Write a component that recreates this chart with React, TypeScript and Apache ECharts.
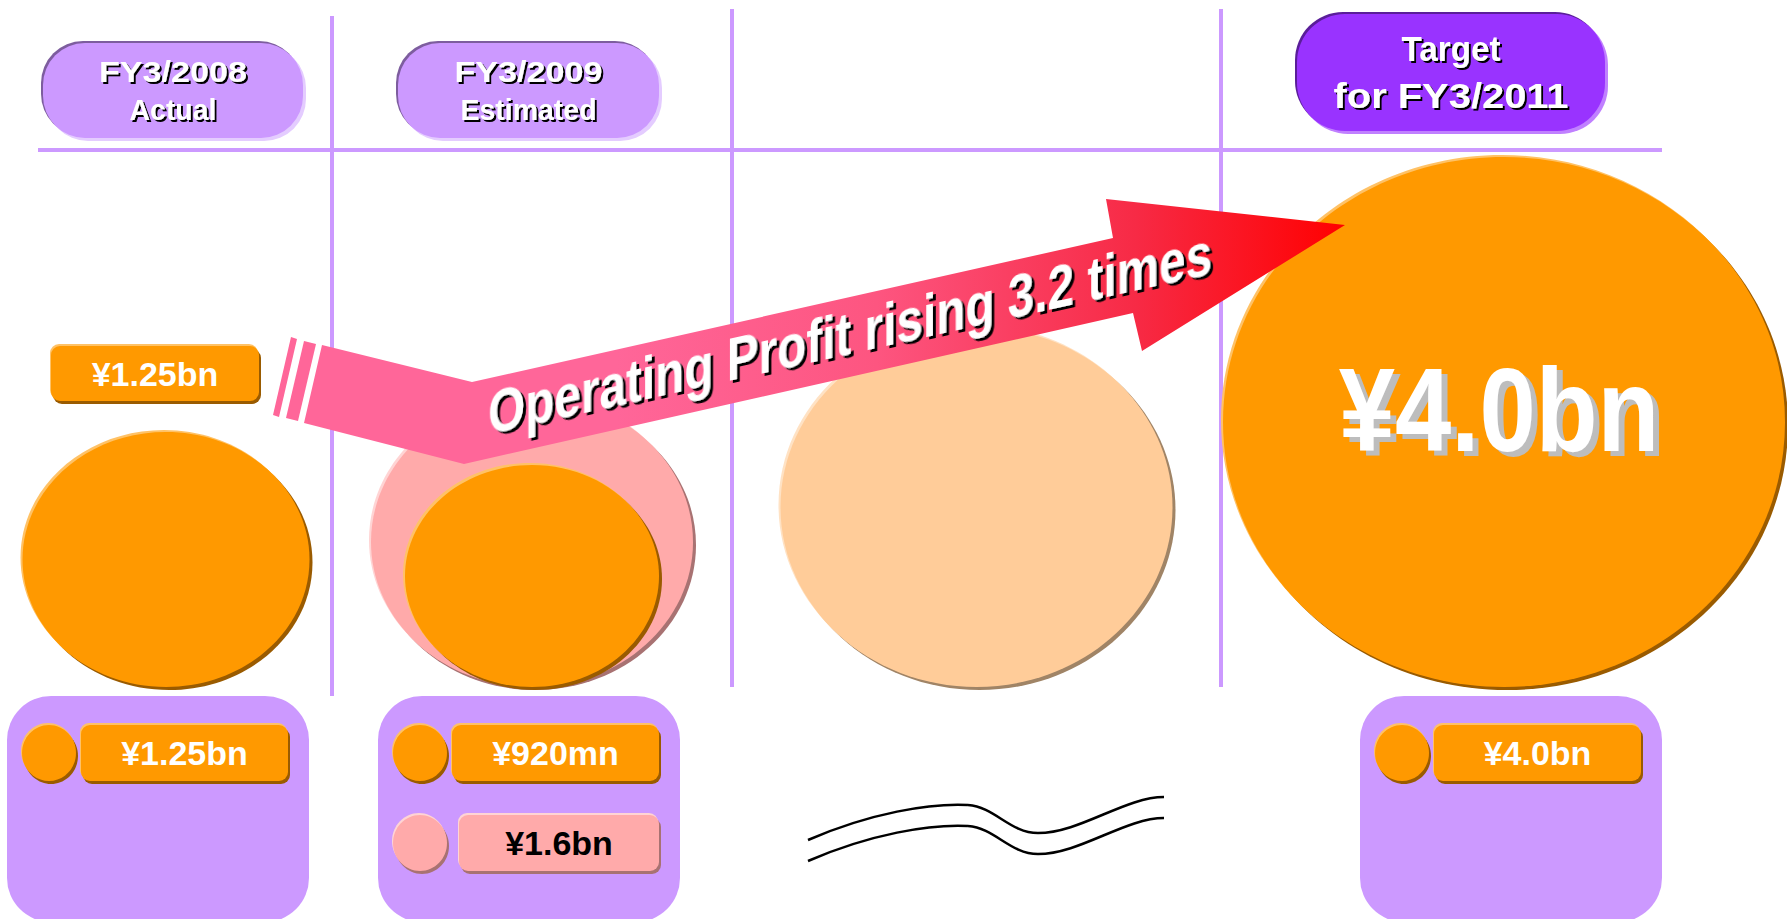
import React, { useEffect, useRef } from 'react';
import * as echarts from 'echarts';

// ---------------- data ----------------
const periods = ['FY3/2008', 'FY3/2009', 'FY3/2010', 'FY3/2011'];
const headerLines: (string[] | null)[] = [
  ['FY3/2008', 'Actual'],
  ['FY3/2009', 'Estimated'],
  null,
  ['Target', 'for FY3/2011'],
];
const operatingProfit: (number | null)[] = [1.25, 0.92, null, 4.0]; // ¥bn
const initialForecast: (number | null)[] = [null, 1.6, null, null]; // ¥bn
const projectedPath: (number | null)[] = [null, null, 2.3, null]; // ¥bn (unlabelled)
const profitLabels = ['¥1.25bn', '¥920mn', '', '¥4.0bn'];
const forecastLabels = ['', '¥1.6bn', '', ''];
const headline = 'Operating Profit rising 3.2 times';

// ---------------- layout / style ----------------
const W = 1787;
const H = 919;
const COL_EDGES = [0, 332, 732, 1221, 1807];
const GRID_TOP = 107;
const GRID_H = 580;
const Y_MIN = -1.3;
const Y_MAX = 4.5;
const WIDEN = 16;
const FONT = '"Liberation Sans", Arial, Helvetica, sans-serif';
const LAV = '#cc99ff';

const ORANGE = { fill: '#ff9900', light: '#ffc266', dark: '#9a5b00', text: '#ffffff' };
const PINK = { fill: '#ffaaaa', light: '#ffd4d4', dark: '#a87272', text: '#000000' };
const PEACH = { fill: '#ffcc99', light: '#ffe2c4', dark: '#a08466', text: '#000000' };

type Pal = typeof ORANGE;

function textStyle(text: string, fill: string, size: number, extra: any = {}) {
  return {
    text,
    fill,
    font: `bold ${size}px ${FONT}`,
    align: 'center',
    verticalAlign: 'middle',
    textAlign: 'center',
    textVerticalAlign: 'middle',
    ...extra,
  };
}

function labelBox(x: number, y: number, w: number, h: number, pal: Pal, label: string, size: number, z = 1): any[] {
  return [
    { type: 'rect', z, shape: { x: x + 2, y: y + 3, width: w, height: h, r: 9 }, style: { fill: pal.dark } },
    { type: 'rect', z, shape: { x: x - 1, y: y - 2, width: w, height: h, r: 9 }, style: { fill: pal.light } },
    { type: 'rect', z, shape: { x, y, width: w, height: h, r: 9 }, style: { fill: pal.fill } },
    { type: 'text', z, x: x + w / 2, y: y + h / 2, style: textStyle(label, pal.text, size) },
  ];
}

function legendEntry(cx: number, cy: number, boxX: number, boxW: number, pal: Pal, label: string): any[] {
  const r = 28;
  return [
    { type: 'ellipse', z: 2, shape: { cx: cx + 2, cy: cy + 3, rx: r - 1, ry: r }, style: { fill: pal.dark } },
    { type: 'ellipse', z: 2, shape: { cx: cx - 1, cy: cy - 2, rx: r - 1, ry: r }, style: { fill: pal.light } },
    { type: 'ellipse', z: 2, shape: { cx, cy, rx: r - 1, ry: r }, style: { fill: pal.fill } },
    ...labelBox(boxX, cy - 28, boxW, 56, pal, label, 34, 2),
  ];
}

function makeRenderItem(pal: Pal, opts: { callout?: string; inner?: string }) {
  return (params: any, api: any) => {
    const top = api.coord([api.value(0), api.value(1)]);
    const base = api.coord([api.value(0), Y_MIN]);
    const ry = (base[1] - top[1]) / 2;
    const rx = ry + WIDEN;
    const cx = top[0];
    const cy = base[1] - ry;
    const children: any[] = [
      { type: 'ellipse', shape: { cx: cx + 3, cy: cy + 3, rx, ry }, style: { fill: pal.dark } },
      { type: 'ellipse', shape: { cx: cx - 2, cy: cy - 2, rx, ry }, style: { fill: pal.light } },
      { type: 'ellipse', shape: { cx, cy, rx, ry }, style: { fill: pal.fill } },
    ];
    if (opts.callout) {
      const bw = 208;
      const bh = 55;
      children.push(...labelBox(cx - 11 - bw / 2, top[1] - 31 - bh, bw, bh, pal, opts.callout, 34));
    }
    if (opts.inner) {
      children.push({
        type: 'text',
        x: cx - 5,
        y: cy - 12,
        scaleX: 0.85,
        style: textStyle(opts.inner, '#ffffff', 119, {
          textShadowColor: '#bdbdbd',
          textShadowBlur: 1,
          textShadowOffsetX: 6,
          textShadowOffsetY: 5,
        }),
      });
    }
    return { type: 'group', children };
  };
}

function buildOption() {
  const grids = periods.map((_, i) => ({
    left: COL_EDGES[i],
    width: COL_EDGES[i + 1] - COL_EDGES[i],
    top: GRID_TOP,
    height: GRID_H,
    show: false,
  }));
  const xAxes = periods.map((p, i) => ({ type: 'category', gridIndex: i, data: [p], show: false }));
  const yAxes = periods.map((_, i) => ({ type: 'value', gridIndex: i, min: Y_MIN, max: Y_MAX, show: false }));

  const series: any[] = [];
  const layers = [
    { name: 'Initial forecast', values: initialForecast, pal: PINK, z: 2 },
    { name: 'Projection', values: projectedPath, pal: PEACH, z: 2 },
    { name: 'Operating profit', values: operatingProfit, pal: ORANGE, z: 3 },
  ];
  layers.forEach((layer) => {
    layer.values.forEach((v, i) => {
      if (v == null) return;
      const isProfit = layer.values === operatingProfit;
      series.push({
        type: 'custom',
        name: layer.name,
        xAxisIndex: i,
        yAxisIndex: i,
        z: layer.z,
        data: [[0, v]],
        renderItem: makeRenderItem(layer.pal, {
          callout: isProfit && i === 0 ? profitLabels[i] : undefined,
          inner: isProfit && i === periods.length - 1 ? profitLabels[i] : undefined,
        }),
      });
    });
  });

  const g: any[] = [];
  // grid lines
  const lineStyle = { stroke: LAV, lineWidth: 4 };
  g.push({ type: 'line', z: 1, shape: { x1: 38, y1: 150, x2: 1662, y2: 150 }, style: lineStyle });
  g.push({ type: 'line', z: 1, shape: { x1: 332, y1: 16, x2: 332, y2: 696 }, style: lineStyle });
  g.push({ type: 'line', z: 1, shape: { x1: 732, y1: 9, x2: 732, y2: 687 }, style: lineStyle });
  g.push({ type: 'line', z: 1, shape: { x1: 1221, y1: 9, x2: 1221, y2: 687 }, style: lineStyle });

  // header pills
  const pills = [
    { x: 43, y: 43, w: 260, h: 95, r: 42, fill: LAV, dark: '#7d5d9e', light: '#e4ccff', size: 30, l1: 72, l2: 110 },
    { x: 398, y: 43, w: 261, h: 95, r: 42, fill: LAV, dark: '#7d5d9e', light: '#e4ccff', size: 30, l1: 72, l2: 110 },
    null,
    { x: 1297, y: 14, w: 308, h: 117, r: 48, fill: '#9933ff', dark: '#5a1e99', light: '#c080ff', size: 35, l1: 49, l2: 96 },
  ];
  pills.forEach((p, i) => {
    const lines = headerLines[i];
    if (!p || !lines) return;
    g.push({ type: 'rect', z: 1, shape: { x: p.x - 2, y: p.y - 2, width: p.w, height: p.h, r: p.r }, style: { fill: p.dark } });
    g.push({ type: 'rect', z: 1, shape: { x: p.x + 3, y: p.y + 3, width: p.w, height: p.h, r: p.r }, style: { fill: p.light } });
    g.push({ type: 'rect', z: 1, shape: { x: p.x, y: p.y, width: p.w, height: p.h, r: p.r }, style: { fill: p.fill } });
    [p.l1, p.l2].forEach((yy, k) => {
      g.push({
        type: 'text',
        z: 1,
        x: p.x + p.w / 2,
        y: yy,
        // the original's wide slash makes the fiscal-year lines run wider
        scaleX: lines[k].indexOf('/') >= 0 ? 1.14 : 0.95,
        style: textStyle(lines[k], '#ffffff', p.size, {
          textShadowColor: '#000000',
          textShadowBlur: 1,
          textShadowOffsetX: 2,
          textShadowOffsetY: 2,
        }),
      });
    });
  });

  // bottom panels
  [7, 378, 1360].forEach((x) => {
    g.push({ type: 'rect', z: 1, shape: { x, y: 696, width: 302, height: 226, r: 44 }, style: { fill: LAV } });
  });
  g.push(...legendEntry(49, 753, 81, 207, ORANGE, profitLabels[0]));
  g.push(...legendEntry(420, 753, 452, 207, ORANGE, profitLabels[1]));
  g.push(...legendEntry(420, 843, 459, 200, PINK, forecastLabels[1]));
  g.push(...legendEntry(1402, 753, 1434, 207, ORANGE, profitLabels[3]));

  // wavy "break" symbol
  const wave = (dy: number) => [
    { type: 'bezierCurve', z: 1, shape: { x1: 808, y1: 840 + dy, cpx1: 870, cpy1: 813 + dy, cpx2: 930, cpy2: 803 + dy, x2: 968, y2: 805 + dy }, style: { stroke: '#000', lineWidth: 2.5, fill: null } },
    { type: 'bezierCurve', z: 1, shape: { x1: 968, y1: 805 + dy, cpx1: 995, cpy1: 807 + dy, cpx2: 1010, cpy2: 833 + dy, x2: 1038, y2: 833 + dy }, style: { stroke: '#000', lineWidth: 2.5, fill: null } },
    { type: 'bezierCurve', z: 1, shape: { x1: 1038, y1: 833 + dy, cpx1: 1080, cpy1: 833 + dy, cpx2: 1125, cpy2: 797 + dy, x2: 1164, y2: 797 + dy }, style: { stroke: '#000', lineWidth: 2.5, fill: null } },
  ];
  g.push(...wave(0), ...wave(21));

  // arrow
  const pinkArrow = '#ff6699';
  g.push({ type: 'polygon', z: 10, shape: { points: [[291, 337], [297, 339], [279, 417], [273, 415]] }, style: { fill: pinkArrow } });
  g.push({ type: 'polygon', z: 10, shape: { points: [[304, 341], [316, 344], [298, 421], [286, 418]] }, style: { fill: pinkArrow } });
  g.push({
    type: 'polygon',
    z: 10,
    shape: {
      points: [[322, 345], [472, 382], [1113, 238], [1106, 199], [1345, 225], [1142, 351], [1133, 313], [464, 464], [304, 423]],
    },
    style: {
      fill: new echarts.graphic.LinearGradient(0, 0, 1, 0, [
        { offset: 0, color: '#ff6699' },
        { offset: 0.3, color: '#ff6699' },
        { offset: 0.55, color: '#fd5580' },
        { offset: 0.8, color: '#f72a45' },
        { offset: 1, color: '#ff0000' },
      ]),
    },
  });
  g.push({
    type: 'text',
    z: 11,
    x: 850,
    y: 332,
    scaleX: 0.77,
    skewY: 0.218,
    style: textStyle(headline, '#ffffff', 62, {
      textShadowColor: '#000000',
      textShadowBlur: 1,
      textShadowOffsetX: 3,
      textShadowOffsetY: 3,
    }),
  });

  return {
    animation: false,
    backgroundColor: '#ffffff',
    grid: grids,
    xAxis: xAxes,
    yAxis: yAxes,
    series,
    graphic: g,
  };
}

export default function App() {
  const ref = useRef<HTMLDivElement>(null);
  useEffect(() => {
    if (!ref.current) return;
    const chart = echarts.init(ref.current, null, { renderer: 'svg', width: W, height: H });
    chart.setOption(buildOption() as any);
    return () => chart.dispose();
  }, []);
  return (
    <div
      ref={ref}
      style={{ position: 'fixed', left: 0, top: 0, width: W, height: H, background: '#ffffff' }}
    />
  );
}
